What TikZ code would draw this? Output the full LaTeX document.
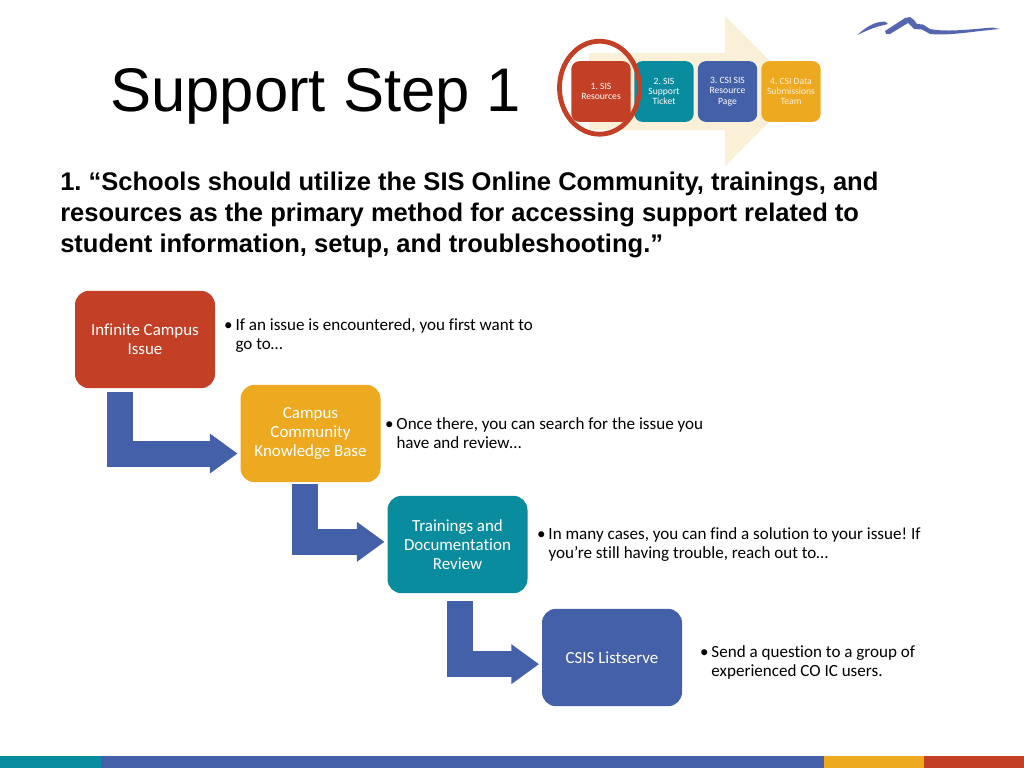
\documentclass[tikz,border=0pt]{standalone}
\usepackage{fontspec}
\setmainfont[Ligatures={TeX,NoCommon}]{Carlito}
\newfontfamily\headfont{Liberation Sans}
\usetikzlibrary{arrows.meta,positioning}
\definecolor{csired}{HTML}{C33F26}
\definecolor{csiteal}{HTML}{0A8C9F}
\definecolor{csiblue}{HTML}{4460A9}
\definecolor{csiorange}{HTML}{EDA91F}
\definecolor{csicream}{HTML}{FAF0D8}
\definecolor{csilogo}{HTML}{5566AE}
\newcommand{\bul}[2]{\makebox[8.6pt][l]{\textbullet}#1\\\hspace*{8.6pt}#2}

\begin{document}
\frenchspacing
\begin{tikzpicture}[x=0.75pt,y=-0.75pt]
\tikzset{
  bigbox/.style={rounded corners=10.5pt,minimum width=105pt,minimum height=73pt,
    align=center,text=white!95!csicream,font=\fontsize{12.7}{14.2}\selectfont,inner sep=0pt},
  smallbox/.style={rounded corners=6pt,minimum width=44.5pt,minimum height=45.5pt,
    align=center,text=white!90!csicream,font=\fontsize{7.2}{7.8}\selectfont,inner sep=0pt},
  note/.style={align=left,font=\fontsize{12.8}{14.2}\selectfont,inner sep=0pt,anchor=west},
  stepflow/.style={draw=csiblue,line width=19.5pt,
    -{Triangle[length=20.75pt,width=28.5pt]}}
}
\useasboundingbox (0,0) rectangle (1024,768);

% bottom strip
\fill[csiteal] (0,756) rectangle (101,768);
\fill[csiblue] (101,756) rectangle (824,768);
\fill[csiorange] (824,756) rectangle (924,768);
\fill[csired] (924,756) rectangle (1024,768);

% logo
\fill[csilogo] (857,35) .. controls (864,29) and (872,23) .. (880,22) -- (885,21.5) -- (888,24)
  -- (880,26) .. controls (872,28) and (864,32) .. (857,35) -- cycle;
\fill[csilogo] (885,31) -- (905,18) -- (910,17) -- (914,20) -- (917,24) -- (923,24.5) -- (930,29)
  .. controls (945,32) and (965,30) .. (992,27.5) -- (1000,29)
  .. controls (975,31) and (950,36) .. (930,34)
  -- (922,29.5) -- (914,29) -- (908,23) -- (890,34) -- (886,34) -- cycle;

% title
\node[font=\headfont\fontsize{46.2}{50}\selectfont,anchor=west,inner sep=0pt] (title) at (110,96) {Support Step 1};

% small process arrow
\fill[csicream] (589,53) -- (725,53) -- (725,16) -- (800,91) -- (725,166) -- (725,130) -- (589,130) -- cycle;
\node[smallbox,fill=csired] (res) at (601,91.5) {1. SIS\\Resources};
\node[smallbox,fill=csiteal] (tic) at (664,91.5) {2. SIS\\Support\\Ticket};
\node[smallbox,fill=csiblue] (pag) at (727.5,91.5) {3. CSI SIS\\Resource\\Page};
\node[smallbox,fill=csiorange,text=csicream] (tea) at (791,91.5) {4. CSI Data\\Submissions\\Team};
\draw[csired,line width=3.6pt] (599.5,87.7) ellipse (40 and 46.5);

% quote
\node[font=\headfont\bfseries\fontsize{19.15}{23}\selectfont,align=left,anchor=north west,inner sep=0pt] (quote) at (60,172)
  {1. “Schools should utilize the SIS Online Community, trainings, and\\
   resources as the primary method for accessing support related to\\
   student information, setup, and troubleshooting.”};

% process boxes
\node[bigbox,fill=csired] (issue) at (145,339.5) {Infinite Campus\\Issue};
\node[bigbox,fill=csiorange] (base) at (310.5,433.5) {Campus\\Community\\Knowledge Base};
\node[bigbox,fill=csiteal] (train) at (457.5,544.5) {Trainings and\\Documentation\\Review};
\node[bigbox,fill=csiblue] (serve) at (612,657.5) {CSIS Listserve};

% notes
\node[note,right=6.4pt of issue,yshift=3pt] (n1) {\bul{If an issue is encountered, you first want to}{go to…}};
\node[note,right=3pt of base] (n2) {\bul{Once there, you can search for the issue you}{have and review…}};
\node[note,right=6.75pt of train] (n3) {\bul{In many cases, you can find a solution to your issue! If}{you’re still having trouble, reach out to…}};
\node[note,right=13.1pt of serve,yshift=-3.75pt] (n4) {\bul{Send a question to a group of}{experienced CO IC users.}};

% arrows
\draw[stepflow] ([xshift=-18.75pt,yshift=-3pt]issue.south) |- ([xshift=-2pt,yshift=-15pt]base.west);
\draw[stepflow] ([xshift=-4pt,yshift=-1.5pt]base.south) |- ([xshift=-2pt,yshift=2pt]train.west);
\draw[stepflow] ([xshift=1.9pt,yshift=-6pt]train.south) |- ([xshift=-2pt,yshift=-5pt]serve.west);
\end{tikzpicture}
\end{document}
